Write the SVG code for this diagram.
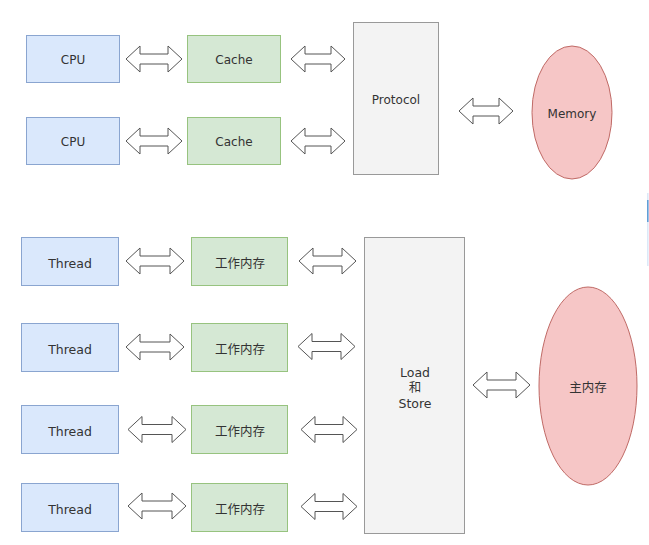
<svg xmlns="http://www.w3.org/2000/svg" width="649" height="545" viewBox="0 0 649 545">
<defs>
<style>
.blue{fill:#dae8fc;stroke:#8aa5d0;stroke-width:1}
.green{fill:#d5e8d4;stroke:#97c37f;stroke-width:1}
.gray{fill:#f3f3f3;stroke:#999999;stroke-width:1}
.pink{fill:#f6c6c6;stroke:#c06a66;stroke-width:1}
.arrow{fill:#ffffff;stroke:#555555;stroke-width:1;stroke-linejoin:miter}
text{font-family:"DejaVu Sans","Noto Sans CJK SC",sans-serif;fill:#333333;text-anchor:middle;dominant-baseline:central}
.t12{font-size:12px}
.t13{font-size:12.5px}
</style>
</defs>
<rect width="649" height="545" fill="#ffffff"/>
<line x1="647.8" y1="193" x2="647.8" y2="266" stroke="#dbe8f8" stroke-width="1.5"/>
<line x1="647.8" y1="200" x2="647.8" y2="222" stroke="#5b9bd5" stroke-width="1.5"/>

<g id="cpu1"><rect class="blue" x="26.5" y="35.5" width="93" height="47"/><text class="t12" x="73" y="60">CPU</text></g>
<g id="cpu2"><rect class="blue" x="26.5" y="117.5" width="93" height="47"/><text class="t12" x="73" y="142">CPU</text></g>
<g id="cache1"><rect class="green" x="187.5" y="35.5" width="93" height="47"/><text class="t12" x="234" y="60">Cache</text></g>
<g id="cache2"><rect class="green" x="187.5" y="117.5" width="93" height="47"/><text class="t12" x="234" y="142">Cache</text></g>
<g id="protocol"><rect class="gray" x="353.5" y="22.5" width="85" height="152"/><text class="t12" x="396" y="100">Protocol</text></g>
<g id="memory"><ellipse class="pink" cx="572" cy="112.5" rx="40" ry="66.5"/><text class="t12" x="572" y="114">Memory</text></g>

<g id="thread1"><rect class="blue" x="21.5" y="237.5" width="97" height="48"/><text class="t13" x="70" y="263">Thread</text></g>
<g id="thread2"><rect class="blue" x="21.5" y="323.5" width="97" height="48"/><text class="t13" x="70" y="349">Thread</text></g>
<g id="thread3"><rect class="blue" x="21.5" y="405.5" width="97" height="48"/><text class="t13" x="70" y="431">Thread</text></g>
<g id="thread4"><rect class="blue" x="21.5" y="483.5" width="97" height="48"/><text class="t13" x="70" y="509">Thread</text></g>
<g id="work1"><rect class="green" x="191.5" y="237.5" width="96" height="48"/><text class="t13" x="240" y="263">工作内存</text></g>
<g id="work2"><rect class="green" x="191.5" y="323.5" width="96" height="48"/><text class="t13" x="240" y="349">工作内存</text></g>
<g id="work3"><rect class="green" x="191.5" y="405.5" width="96" height="48"/><text class="t13" x="240" y="431">工作内存</text></g>
<g id="work4"><rect class="green" x="191.5" y="483.5" width="96" height="48"/><text class="t13" x="240" y="509">工作内存</text></g>
<g id="loadstore"><rect class="gray" x="364.5" y="237.5" width="100" height="296"/>
<text class="t13" x="415" y="372">Load</text><text class="t13" x="415" y="387.5">和</text><text class="t13" x="415" y="403">Store</text></g>
<g id="mainmem"><ellipse class="pink" cx="588" cy="386" rx="49" ry="99"/><text class="t13" x="588" y="387">主内存</text></g>

<g id="connectors">
<path class="arrow" d="M126,59 L140,46 L140,54 L168,54 L168,46 L182,59 L168,72 L168,64 L140,64 L140,72 Z"/>
<path class="arrow" d="M126,141 L140,128 L140,136 L168,136 L168,128 L182,141 L168,154 L168,146 L140,146 L140,154 Z"/>
<path class="arrow" d="M291,59 L305,46 L305,54 L331,54 L331,46 L345,59 L331,72 L331,64 L305,64 L305,72 Z"/>
<path class="arrow" d="M291,141 L305,128 L305,136 L331,136 L331,128 L345,141 L331,154 L331,146 L305,146 L305,154 Z"/>
<path class="arrow" d="M459,111 L473,98 L473,106 L499,106 L499,98 L513,111 L499,124 L499,116 L473,116 L473,124 Z"/>

<path class="arrow" d="M126,261 L140,248 L140,256 L170,256 L170,248 L184,261 L170,274 L170,266 L140,266 L140,274 Z"/>
<path class="arrow" d="M126,347 L140,334 L140,342 L170,342 L170,334 L184,347 L170,360 L170,352 L140,352 L140,360 Z"/>
<path class="arrow" d="M128,429.5 L142,416.5 L142,424.5 L172,424.5 L172,416.5 L186,429.5 L172,442.5 L172,434.5 L142,434.5 L142,442.5 Z"/>
<path class="arrow" d="M128,506 L142,493 L142,501 L172,501 L172,493 L186,506 L172,519 L172,511 L142,511 L142,519 Z"/>

<path class="arrow" d="M299,261 L313,248 L313,256 L342,256 L342,248 L356,261 L342,274 L342,266 L313,266 L313,274 Z"/>
<path class="arrow" d="M298,346.5 L312,333.5 L312,341.5 L341,341.5 L341,333.5 L355,346.5 L341,359.5 L341,351.5 L312,351.5 L312,359.5 Z"/>
<path class="arrow" d="M301,429.5 L315,416.5 L315,424.5 L343,424.5 L343,416.5 L357,429.5 L343,442.5 L343,434.5 L315,434.5 L315,442.5 Z"/>
<path class="arrow" d="M301,506.5 L315,493.5 L315,501.5 L343,501.5 L343,493.5 L357,506.5 L343,519.5 L343,511.5 L315,511.5 L315,519.5 Z"/>
<path class="arrow" d="M473,385 L487,372 L487,380 L516,380 L516,372 L530,385 L516,398 L516,390 L487,390 L487,398 Z"/>
</g>
</svg>
